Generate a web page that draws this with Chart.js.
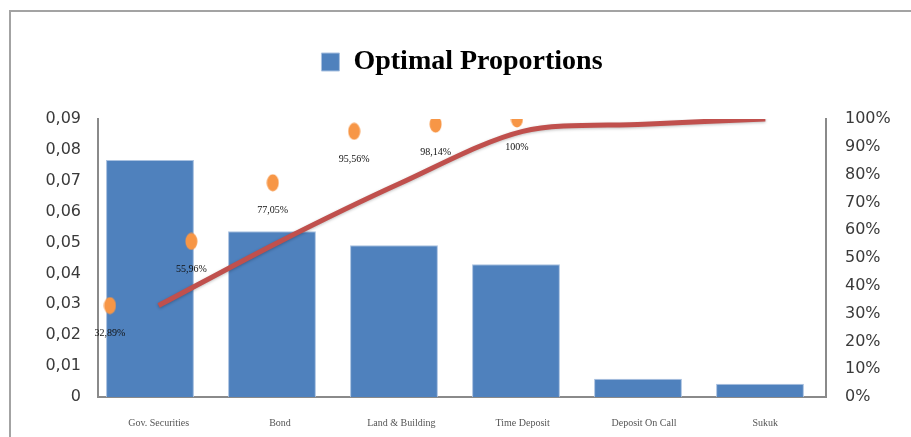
<!DOCTYPE html>
<html>
<head>
<meta charset="utf-8">
<style>
  html, body { margin: 0; padding: 0; background: #fff; }
  #wrap { width: 911px; height: 437px; position: relative; }
</style>
<script src="https://cdn.jsdelivr.net/npm/chart.js@4/dist/chart.umd.min.js"></script>
</head>
<body>
<div id="wrap"><canvas id="c" width="911" height="437"></canvas></div>
<script>
// Portfolio allocation: optimal proportion per asset class and cumulative share
const categories = ['Gov. Securities', 'Bond', 'Land & Building', 'Time Deposit', 'Deposit On Call', 'Sukuk'];
const proportions = [0.0767, 0.0537, 0.0491, 0.0430, 0.0059, 0.0043];
const cumulativePct = [32.89, 55.96, 77.05, 95.56, 98.14, 100];
const leftTickLabels = ['0', '0,01', '0,02', '0,03', '0,04', '0,05', '0,06', '0,07', '0,08', '0,09'];
const rightTickLabels = ['0%', '10%', '20%', '30%', '40%', '50%', '60%', '70%', '80%', '90%', '100%'];
const seriesName = 'Optimal Proportions';

const fmtPct = v => (Number.isInteger(v) ? String(v) : v.toFixed(2).replace('.', ',')) + '%';

// elliptical marker for the cumulative percentage points
const marker = document.createElement('canvas');
marker.width = 13; marker.height = 18;
(function () {
  const m = marker.getContext('2d');
  m.fillStyle = '#F79646';
  m.beginPath();
  m.ellipse(6.5, 9, 6, 8.5, 0, 0, Math.PI * 2);
  m.fill();
})();

// frame lines along the top and left edge
const framePlugin = {
  id: 'frame',
  beforeDraw(chart) {
    const ctx = chart.ctx;
    ctx.save();
    ctx.strokeStyle = '#A3A3A3';
    ctx.lineWidth = 2;
    ctx.beginPath();
    ctx.moveTo(10, chart.height);
    ctx.lineTo(10, 11);
    ctx.lineTo(chart.width, 11);
    ctx.stroke();
    ctx.restore();
  }
};

// soft shadow under the cumulative curve
const lineShadow = {
  id: 'lineShadow',
  beforeDatasetDraw(chart, args) {
    if (args.index !== 1) return;
    const ctx = chart.ctx;
    ctx.save();
    ctx.shadowColor = 'rgba(0,0,0,0.25)';
    ctx.shadowBlur = 3;
    ctx.shadowOffsetY = 1;
  },
  afterDatasetDraw(chart, args) {
    if (args.index !== 1) return;
    chart.ctx.restore();
  }
};

// percentage labels under each marker
const pointLabels = {
  id: 'pointLabels',
  afterDatasetsDraw(chart) {
    const meta = chart.getDatasetMeta(2);
    const ctx = chart.ctx;
    ctx.save();
    ctx.font = '10px "Liberation Serif", "Times New Roman", serif';
    ctx.fillStyle = '#111';
    ctx.textAlign = 'center';
    ctx.textBaseline = 'middle';
    meta.data.forEach((pt, i) => {
      ctx.fillText(fmtPct(cumulativePct[i]), pt.x, pt.y + 28);
    });
    ctx.restore();
  }
};

new Chart(document.getElementById('c'), {
  type: 'bar',
  data: {
    labels: categories,
    datasets: [
      {
        type: 'bar',
        label: seriesName,
        xAxisID: 'xb',
        yAxisID: 'y',
        data: proportions.map((v, i) => ({ x: i, y: v })),
        backgroundColor: '#4F81BD',
        borderColor: '#A9C1E0',
        borderWidth: 1,
        grouped: false,
        categoryPercentage: 1,
        barPercentage: 0.72,
        order: 3
      },
      {
        type: 'line',
        label: 'Cumulative',
        xAxisID: 'x',
        yAxisID: 'y1',
        data: cumulativePct,
        borderColor: '#C0504D',
        borderWidth: 5,
        tension: 0.3,
        pointRadius: 0,
        fill: false,
        order: 2
      },
      {
        type: 'line',
        label: 'Cumulative %',
        xAxisID: 'xs',
        yAxisID: 'y1',
        data: cumulativePct.map((v, i) => ({ x: i + 1, y: v })),
        showLine: false,
        pointStyle: marker,
        pointRadius: 9,
        order: 1
      }
    ]
  },
  options: {
    responsive: false,
    animation: false,
    layout: { padding: { top: 38, left: 0, right: 0, bottom: 0 } },
    plugins: {
      legend: {
        display: true,
        position: 'top',
        fullSize: false,
        labels: {
          filter: item => item.datasetIndex === 0,
          boxWidth: 18,
          boxHeight: 18,
          color: '#000',
          padding: 10,
          font: { family: '"Liberation Serif", "Times New Roman", serif', size: 28, weight: 'bold' }
        }
      },
      tooltip: { enabled: false }
    },
    scales: {
      x: {
        type: 'category',
        offset: true,
        grid: { display: false, drawTicks: false },
        border: { display: true, color: '#8A8A8A', width: 2 },
        ticks: {
          color: '#555',
          padding: 20,
          maxRotation: 0,
          autoSkip: false,
          font: { family: '"Liberation Serif", "Times New Roman", serif', size: 10 }
        },
        afterFit(s) { s.height = 40; }
      },
      xb: {
        type: 'linear', display: false, offset: false, min: -0.426, max: 5.541,
        ticks: { stepSize: 1, includeBounds: false }
      },
      xs: { type: 'linear', display: false, offset: false, min: 0.853, max: 9.796 },
      // empty band between the legend and the plot
      gap: {
        type: 'linear',
        axis: 'x',
        position: 'top',
        grid: { display: false, drawTicks: false },
        border: { display: false },
        ticks: { display: false },
        afterFit(s) { s.height = 33; }
      },
      y: {
        position: 'left',
        min: 0,
        max: 0.09,
        grid: { display: false, drawTicks: false },
        border: { display: true, color: '#8A8A8A', width: 2 },
        ticks: {
          stepSize: 0.01,
          padding: 17,
          color: '#3A3A3A',
          font: { family: '"DejaVu Sans", Verdana, sans-serif', size: 16 },
          callback: v => leftTickLabels[Math.round(v / 0.01)]
        },
        afterFit(s) { s.width = 98; }
      },
      y1: {
        position: 'right',
        min: 0,
        max: 100,
        grid: { display: false, drawTicks: false },
        border: { display: true, color: '#8A8A8A', width: 2 },
        ticks: {
          stepSize: 10,
          padding: 19,
          color: '#3A3A3A',
          font: { family: '"DejaVu Sans", Verdana, sans-serif', size: 16 },
          callback: v => rightTickLabels[Math.round(v / 10)]
        },
        afterFit(s) { s.width = 85; }
      }
    }
  },
  plugins: [framePlugin, lineShadow, pointLabels]
});
</script>
</body>
</html>
